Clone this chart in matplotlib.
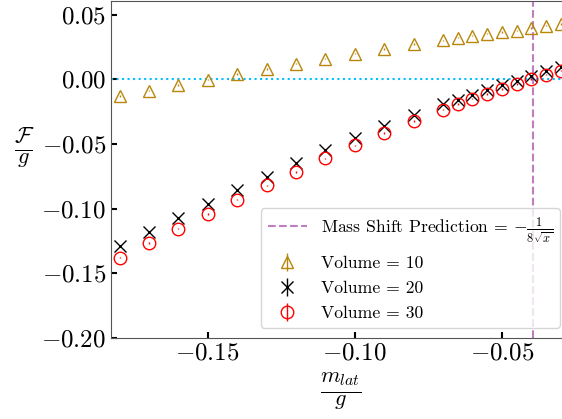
import numpy as np
import matplotlib
matplotlib.use("Agg")
import matplotlib.pyplot as plt

plt.rcParams['font.family'] = 'serif'
plt.rcParams['font.serif'] = ['cmr10']
plt.rcParams['mathtext.fontset'] = 'cm'
plt.rcParams['axes.formatter.use_mathtext'] = True

# coupling ratio m_lat / g
m_lat = [-0.18, -0.17, -0.16, -0.15, -0.14, -0.13, -0.12, -0.11, -0.10, -0.09,
         -0.08, -0.07, -0.065, -0.06, -0.055, -0.05, -0.045, -0.04, -0.035, -0.03]

# F / g for each volume
vol10 = [-0.0131, -0.0087, -0.0046, -0.0002, 0.0041, 0.0079, 0.0121, 0.0160, 0.0198, 0.0234,
         0.0272, 0.0301, 0.0322, 0.0337, 0.0353, 0.0365, 0.0376, 0.0396, 0.0414, 0.0427]
vol20 = [-0.1289, -0.1181, -0.1070, -0.0962, -0.0859, -0.0756, -0.0651, -0.0548, -0.0453, -0.0363,
         -0.0280, -0.0195, -0.0160, -0.0118, -0.0080, -0.0041, -0.0010, 0.0029, 0.0062, 0.0095]
vol30 = [-0.1379, -0.1265, -0.1155, -0.1042, -0.0931, -0.0820, -0.0715, -0.0612, -0.0512, -0.0414,
         -0.0324, -0.0234, -0.0191, -0.0149, -0.0113, -0.0075, -0.0036, 0.0002, 0.0036, 0.0067]
err = 0.0006

volume_pred = 10
mass_shift = -1 / (8 * np.sqrt(volume_pred))

fig = plt.figure(figsize=(5.62, 4.19), dpi=100)
ax = fig.add_axes([0.1975, 0.1935, 0.81, 0.805])

ax.axhline(0, color='deepskyblue', linestyle=':', linewidth=1.5)
ax.axvline(mass_shift, color='purple', alpha=0.5, linestyle='--', linewidth=1.5,
           label=r'Mass Shift Prediction = $-\frac{1}{8\sqrt{x}}$')

ax.errorbar(m_lat, vol10, yerr=err, fmt='^', mfc='none', color='darkgoldenrod',
            markersize=9, linewidth=1, label='Volume = 10')
ax.errorbar(m_lat, vol20, yerr=err, fmt='x', color='black',
            markersize=9, linewidth=1, label='Volume = 20')
ax.errorbar(m_lat, vol30, yerr=err, fmt='o', mfc='none', color='red',
            markersize=9, linewidth=1, label='Volume = 30')

ax.set_xlim(-0.1829, -0.0281)
ax.set_ylim(-0.20, 0.0608)
ax.set_xticks([-0.15, -0.10, -0.05])
ax.set_yticks([-0.20, -0.15, -0.10, -0.05, 0.00, 0.05])
ax.xaxis.set_major_formatter(matplotlib.ticker.FormatStrFormatter(r'$%.2f$'))
ax.yaxis.set_major_formatter(matplotlib.ticker.FormatStrFormatter(r'$%.2f$'))
ax.tick_params(direction='in', length=4, width=1.5, labelsize=18)
for s in ax.spines.values():
    s.set_color('#555555')

ax.set_xlabel(r'$\frac{m_{lat}}{g}$', fontsize=23)
ax.xaxis.set_label_coords(0.504, -0.095)
ax.set_ylabel(r'$\frac{\mathcal{F}}{g}$', fontsize=23, rotation=0)
ax.yaxis.set_label_coords(-0.191, 0.498)

ax.legend(loc='lower right', fontsize=12.7, framealpha=0.8, labelspacing=0.55,
          handlelength=2.2, borderaxespad=0, bbox_to_anchor=(0.9864, 0.0294))

fig.savefig('out.png', dpi=100)
